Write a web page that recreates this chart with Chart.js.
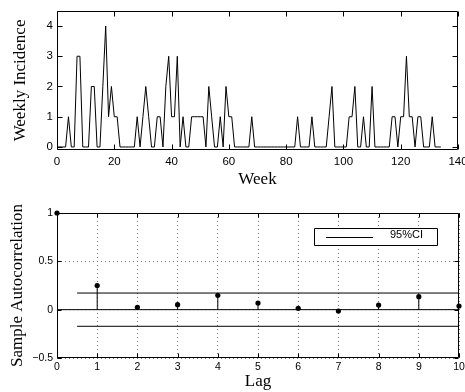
<!DOCTYPE html>
<html>
<head>
<meta charset="utf-8">
<script src="https://cdn.jsdelivr.net/npm/chart.js@4.4.1/dist/chart.umd.min.js"></script>
<style>
  html, body { margin: 0; padding: 0; background: #fff; overflow: hidden; }
  body { position: relative; width: 465px; height: 392px; }
  #incidenceChart { position: absolute; left: 0; top: 0; }
  #acfChart { position: absolute; left: 0; top: 195px; }
</style>
</head>
<body>
<canvas id="incidenceChart" width="480" height="195"></canvas>
<canvas id="acfChart" width="480" height="197"></canvas>

<script>
// weekly incidence, one value per week starting at week 0
const weeklyIncidence = [
  0, 0, 0, 0, 1, 0, 0, 3, 3, 0,   // 0-9
  0, 0, 2, 2, 0, 0, 2, 4, 1, 2,   // 10-19
  1, 1, 0, 0, 0, 0, 0, 0, 1, 0,   // 20-29
  1, 2, 1, 0, 0, 1, 1, 0, 2, 3,   // 30-39
  1, 1, 3, 0, 1, 0, 0, 1, 1, 1,   // 40-49
  1, 1, 0, 2, 1, 0, 0, 1, 0, 2,   // 50-59
  1, 1, 0, 0, 0, 0, 0, 0, 1, 0,   // 60-69
  0, 0, 0, 0, 0, 0, 0, 0, 0, 0,   // 70-79
  0, 0, 0, 0, 1, 0, 0, 0, 0, 1,   // 80-89
  0, 0, 0, 0, 0, 1, 2, 0, 0, 0,   // 90-99
  0, 0, 1, 1, 2, 0, 0, 1, 0, 0,   // 100-109
  2, 0, 0, 0, 0, 0, 0, 1, 1, 0,   // 110-119
  1, 1, 3, 1, 1, 0, 1, 1, 0, 0,   // 120-129
  0, 1, 0, 0, 0                   // 130-134
];
const weekTicks = [0, 20, 40, 60, 80, 100, 120, 140];
const incidenceTicks = [0, 1, 2, 3, 4];

// sample autocorrelation
const lags = [0, 1, 2, 3, 4, 5, 6, 7, 8, 9, 10];
const acf = [1, 0.25, 0.024, 0.052, 0.148, 0.069, 0.014, -0.014, 0.048, 0.134, 0.038];
const ciBound = 0.172;
const ciStart = 0.5;
const ciLabel = '95%CI';
const acfTicks = [-0.5, 0, 0.5, 1];

const tickFont = size => ({ family: '"Liberation Sans", Arial, sans-serif', size: size });
const titleFont = { family: '"Liberation Serif", "Times New Roman", serif', size: 17, lineHeight: 1.2 };

// box around the plot area with matlab style inward ticks
const matlabBox = {
  id: 'matlabBox',
  afterDraw(chart, args, opts) {
    const { ctx, chartArea: a, scales } = chart;
    const L = Math.round(a.left) + 0.5, R = Math.round(a.right) - 0.5;
    const T = Math.round(a.top) + 0.5, B = Math.round(a.bottom) - 0.5;
    const len = opts.len || 5;
    ctx.save();
    ctx.strokeStyle = '#000';
    ctx.lineWidth = 1;
    ctx.beginPath();
    ctx.rect(L, T, R - L, B - T);
    scales.x.ticks.forEach(t => {
      const px = Math.round(scales.x.getPixelForValue(t.value)) + 0.5;
      ctx.moveTo(px, B); ctx.lineTo(px, B - len);
      ctx.moveTo(px, T); ctx.lineTo(px, T + len);
    });
    scales.y.ticks.forEach(t => {
      const py = Math.round(scales.y.getPixelForValue(t.value)) + 0.5;
      ctx.moveTo(L, py); ctx.lineTo(L + len, py);
      ctx.moveTo(R, py); ctx.lineTo(R - len, py);
    });
    ctx.stroke();

    // legend box (only the acf chart has one)
    if (opts.legend) {
      const lg = opts.legend;
      ctx.fillStyle = '#fff';
      ctx.fillRect(lg.x, lg.y, lg.w, lg.h);
      ctx.beginPath();
      ctx.rect(lg.x + 0.5, lg.y + 0.5, lg.w - 1, lg.h - 1);
      const ly = lg.y + Math.round(lg.h / 2) + 0.5;
      ctx.moveTo(lg.x + 12, ly);
      ctx.lineTo(lg.x + 59, ly);
      ctx.stroke();
      ctx.fillStyle = '#000';
      ctx.font = '11px "Liberation Sans", Arial, sans-serif';
      ctx.textBaseline = 'middle';
      ctx.textAlign = 'left';
      ctx.fillText(lg.text, lg.x + 76, lg.y + lg.h / 2 - 2);
    }
    ctx.restore();
  }
};

const fixedTicks = list => scale => { scale.ticks = list.map(v => ({ value: v })); };

// ---- top: weekly incidence
new Chart(document.getElementById('incidenceChart'), {
  type: 'scatter',
  data: {
    datasets: [{
      data: weeklyIncidence.map((v, i) => ({ x: i, y: v })),
      showLine: true,
      borderColor: '#000',
      borderWidth: 1,
      pointRadius: 0,
      tension: 0
    }]
  },
  options: {
    responsive: false,
    animation: false,
    events: [],
    layout: { padding: { top: 6, right: 22, left: 0, bottom: 0 } },
    plugins: { legend: { display: false }, tooltip: { enabled: false }, matlabBox: { len: 5 } },
    scales: {
      x: {
        type: 'linear', min: 0, max: 140,
        afterBuildTicks: fixedTicks(weekTicks),
        afterFit: s => { s.height = 45; },
        grid: { display: false, drawTicks: false },
        border: { display: false },
        ticks: { color: '#000', font: tickFont(11.5), padding: 5, maxRotation: 0, autoSkip: false },
        title: { display: true, text: 'Week', color: '#000', font: titleFont, padding: { top: 5, bottom: 5 } }
      },
      y: {
        type: 'linear', min: -0.1, max: 4.5,
        afterBuildTicks: fixedTicks(incidenceTicks),
        afterFit: s => { s.width = 57; },
        grid: { display: false, drawTicks: false },
        border: { display: false },
        ticks: { color: '#000', font: tickFont(11.5), padding: 4 },
        title: { display: true, text: 'Weekly Incidence', color: '#000', font: titleFont, padding: { top: 10, bottom: 10 } }
      }
    }
  },
  plugins: [matlabBox]
});

// ---- bottom: autocorrelation stem plot
const stemSets = lags.map((lag, i) => ({
  data: [{ x: lag, y: 0 }, { x: lag, y: acf[i] }],
  showLine: true, borderColor: '#000', borderWidth: 1, pointRadius: 0
}));

new Chart(document.getElementById('acfChart'), {
  type: 'scatter',
  data: {
    datasets: [
      { data: [{ x: lags[0], y: 0 }, { x: lags[lags.length - 1], y: 0 }],
        showLine: true, borderColor: '#000', borderWidth: 1, pointRadius: 0 },
      { data: [{ x: ciStart, y: ciBound }, { x: lags[lags.length - 1], y: ciBound }],
        showLine: true, borderColor: '#000', borderWidth: 1, pointRadius: 0 },
      { data: [{ x: ciStart, y: -ciBound }, { x: lags[lags.length - 1], y: -ciBound }],
        showLine: true, borderColor: '#000', borderWidth: 1, pointRadius: 0 },
      ...stemSets,
      { data: lags.map((lag, i) => ({ x: lag, y: acf[i] })),
        pointRadius: 2.6, pointBackgroundColor: '#000', pointBorderColor: '#000', pointBorderWidth: 0,
        clip: false }
    ]
  },
  options: {
    responsive: false,
    animation: false,
    events: [],
    layout: { padding: { top: 18, right: 21, left: 0, bottom: 0 } },
    plugins: {
      legend: { display: false }, tooltip: { enabled: false },
      matlabBox: { len: 4, legend: { x: 314, y: 33, w: 124, h: 18, text: ciLabel } }
    },
    scales: {
      x: {
        type: 'linear', min: 0, max: 10,
        afterBuildTicks: fixedTicks(lags),
        afterFit: s => { s.height = 34; },
        grid: { color: '#777', drawTicks: false },
        border: { display: false, dash: [1, 3] },
        ticks: { color: '#000', font: tickFont(10.5), padding: 3, maxRotation: 0, autoSkip: false },
        title: { display: true, text: 'Lag', color: '#000', font: titleFont, padding: { top: 0, bottom: 0 } }
      },
      y: {
        type: 'linear', min: -0.5, max: 1,
        afterBuildTicks: fixedTicks(acfTicks),
        afterFit: s => { s.width = 57; },
        grid: { color: '#777', drawTicks: false },
        border: { display: false, dash: [1, 3] },
        ticks: { color: '#000', font: tickFont(10.5), padding: 4,
                 callback: v => String(v).replace('-', '\u2212') },
        title: { display: true, text: 'Sample Autocorrelation', color: '#000', font: titleFont, padding: { top: 7, bottom: 7 } }
      }
    }
  },
  plugins: [matlabBox]
});
</script>
</body>
</html>
